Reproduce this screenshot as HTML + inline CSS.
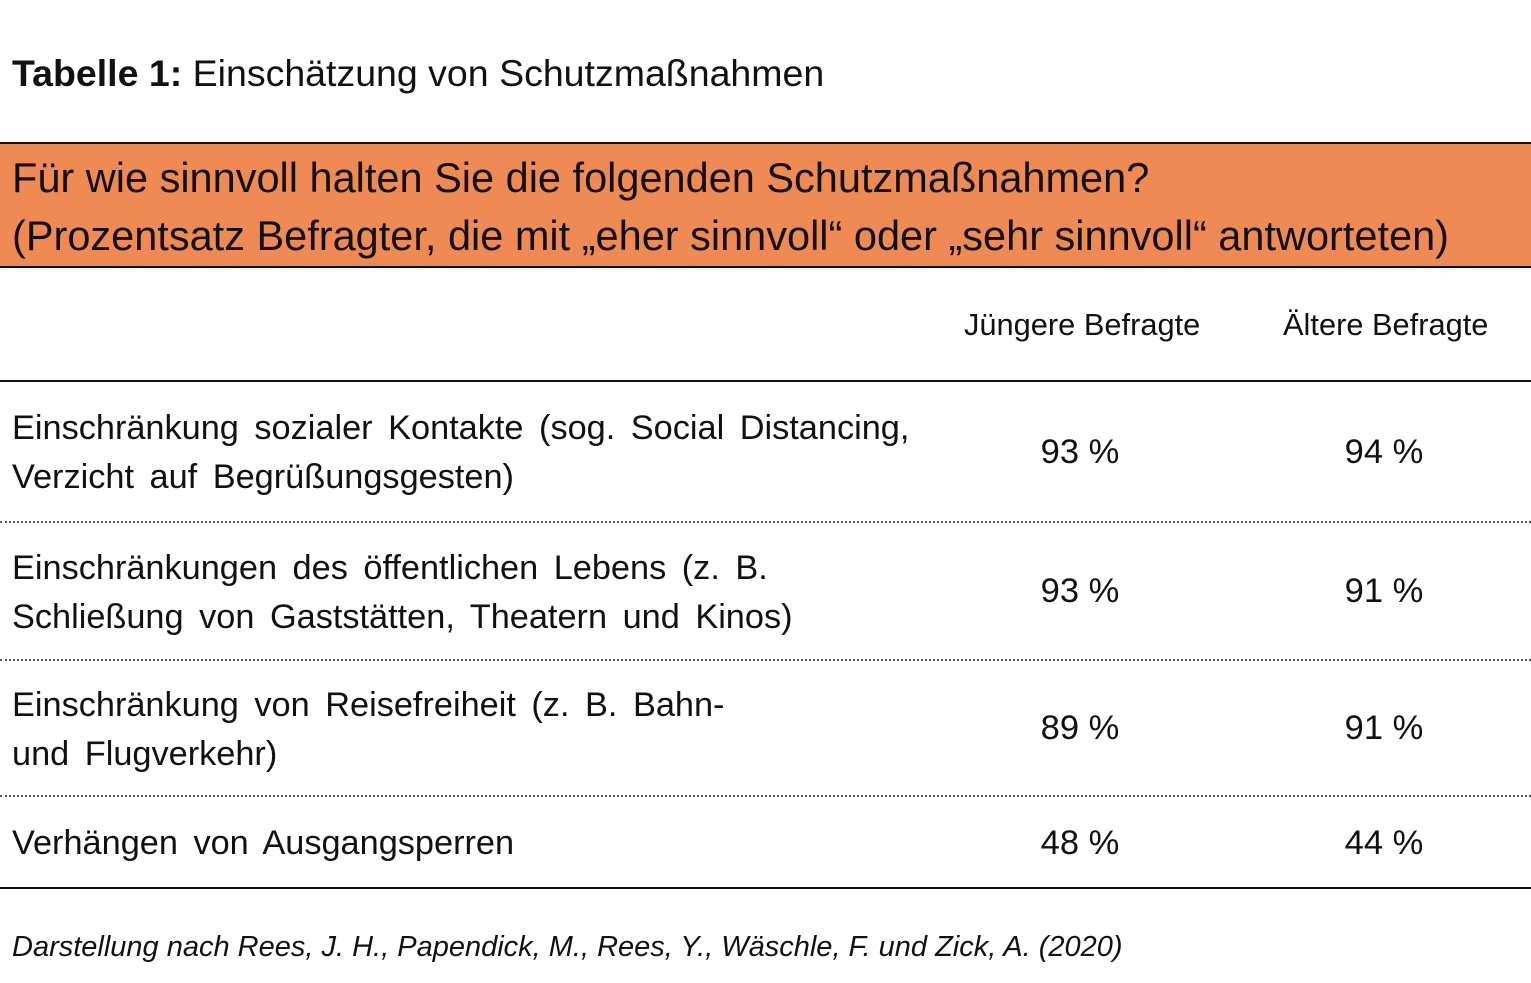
<!DOCTYPE html>
<html><head><meta charset="utf-8"><style>
body{margin:0;width:1531px;height:983px;background:#fff;position:relative;font-family:"Liberation Sans",sans-serif;color:#111;overflow:hidden}
.a{position:absolute;white-space:nowrap}
.hl{position:absolute;left:0;width:1531px;height:0}
.s{border-top:2px solid #111}
.d{border-top:2px dotted #555}
.t{font-size:34.3px;line-height:49px;word-spacing:6px}
.n{font-size:34.5px;width:200px;text-align:center}
</style></head><body>
<div class="a" style="left:12px;top:52px;font-size:37.5px"><b>Tabelle 1:</b> Einschätzung von Schutzmaßnahmen</div>
<div style="position:absolute;left:0;top:143px;width:1531px;height:124px;background:#F08A55"></div>
<div class="hl s" style="top:142px"></div>
<div class="hl s" style="top:266px"></div>
<div class="a" style="left:12px;top:149px;font-size:41.5px;line-height:58px">Für wie sinnvoll halten Sie die folgenden Schutzmaßnahmen?<br>(Prozentsatz Befragter, die mit „eher sinnvoll“ oder „sehr sinnvoll“ antworteten)</div>
<div class="a" style="left:964px;top:307px;font-size:30.8px">Jüngere Befragte</div>
<div class="a" style="left:1283px;top:307px;font-size:30.8px">Ältere Befragte</div>
<div class="hl s" style="top:380px"></div>
<div class="a t" style="left:12px;top:404px">Einschränkung sozialer Kontakte (sog. Social Distancing,<br>Verzicht auf Begrüßungsgesten)</div>
<div class="a n" style="left:980px;top:433px">93 %</div><div class="a n" style="left:1284px;top:433px">94 %</div>
<div class="hl d" style="top:521px"></div>
<div class="a t" style="left:12px;top:544px">Einschränkungen des öffentlichen Lebens (z. B.<br>Schließung von Gaststätten, Theatern und Kinos)</div>
<div class="a n" style="left:980px;top:572px">93 %</div><div class="a n" style="left:1284px;top:572px">91 %</div>
<div class="hl d" style="top:659px"></div>
<div class="a t" style="left:12px;top:681px">Einschränkung von Reisefreiheit (z. B. Bahn-<br>und Flugverkehr)</div>
<div class="a n" style="left:980px;top:709px">89 %</div><div class="a n" style="left:1284px;top:709px">91 %</div>
<div class="hl d" style="top:795px"></div>
<div class="a t" style="left:12px;top:819px">Verhängen von Ausgangsperren</div>
<div class="a n" style="left:980px;top:824px">48 %</div><div class="a n" style="left:1284px;top:824px">44 %</div>
<div class="hl s" style="top:887px"></div>
<div class="a" style="left:12px;top:931px;font-size:29px;font-style:italic">Darstellung nach Rees, J. H., Papendick, M., Rees, Y., Wäschle, F. und Zick, A. (2020)</div>
</body></html>
